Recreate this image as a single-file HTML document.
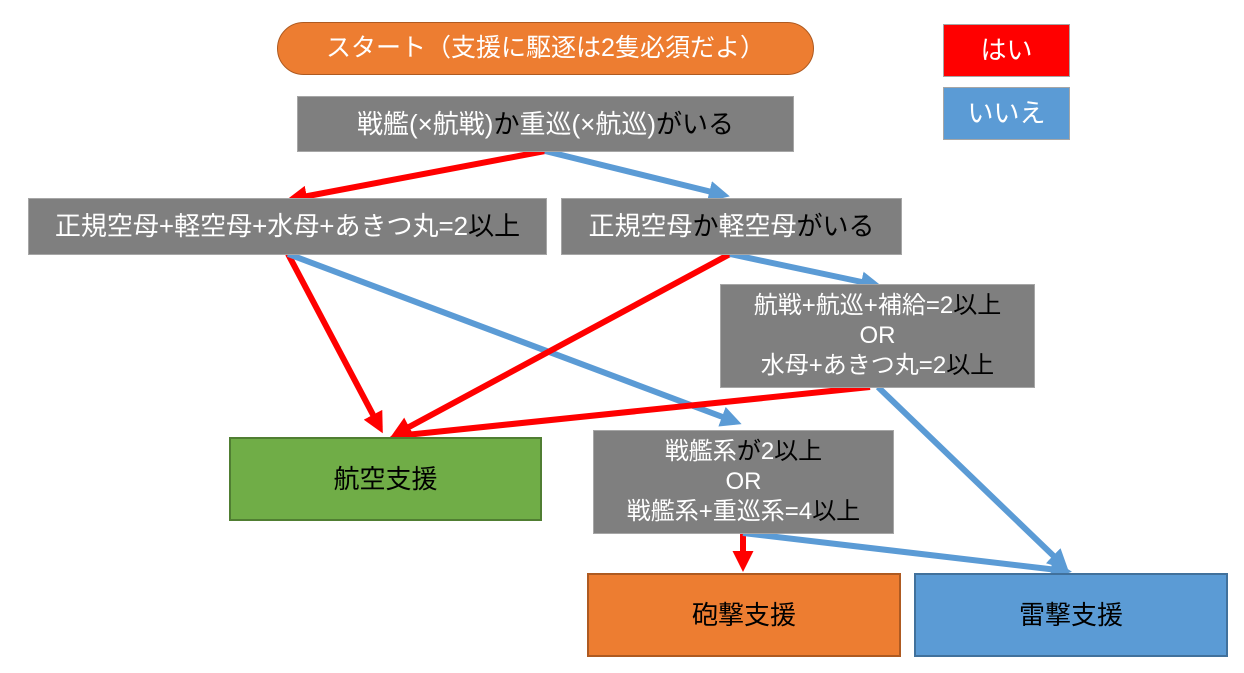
<!DOCTYPE html><html><head><meta charset="utf-8"><style>
body{margin:0;width:1244px;height:673px;background:#fff;position:relative;overflow:hidden;font-family:"Liberation Sans","Noto Sans CJK JP",sans-serif}
.b{position:absolute;display:flex;align-items:center;justify-content:center;text-align:center;color:#fff;box-sizing:border-box;line-height:1.25}
.b>div{display:block;white-space:nowrap}
.g{background:#7f7f7f;border:1px solid #a6a6a6;font-size:26px}
.k{color:#000}
</style></head><body>
<svg width="1244" height="673" style="position:absolute;left:0;top:0">
<defs>
<marker id="r" markerWidth="3.5" markerHeight="3.5" refX="2.5" refY="1.75" orient="auto"><path d="M0,0L3.5,1.75L0,3.5z" fill="#f00"/></marker>
<marker id="u" markerWidth="3.5" markerHeight="3.5" refX="2.5" refY="1.75" orient="auto"><path d="M0,0L3.5,1.75L0,3.5z" fill="#5b9bd5"/></marker>
</defs>
<g stroke-width="6" fill="none">
<line x1="545" y1="151" x2="292" y2="199" stroke="#f00" marker-end="url(#r)"/>
<line x1="545" y1="151" x2="724" y2="195" stroke="#5b9bd5" marker-end="url(#u)"/>
<line x1="288" y1="254" x2="380" y2="428" stroke="#f00" marker-end="url(#r)"/>
<line x1="288" y1="254" x2="736" y2="422" stroke="#5b9bd5" marker-end="url(#u)"/>
<line x1="730" y1="254" x2="396" y2="434" stroke="#f00" marker-end="url(#r)"/>
<line x1="730" y1="254" x2="876" y2="285" stroke="#5b9bd5" marker-end="url(#u)"/>
<line x1="870" y1="387" x2="396" y2="436" stroke="#f00" marker-end="url(#r)"/>
<line x1="878" y1="387" x2="1064" y2="566" stroke="#5b9bd5" marker-end="url(#u)"/>
<line x1="743" y1="533" x2="743" y2="566" stroke="#f00" marker-end="url(#r)"/>
<line x1="743" y1="533" x2="1066" y2="571" stroke="#5b9bd5" marker-end="url(#u)"/>
</g></svg>
<div class="b" style="left:277px;top:22px;width:537px;height:53px;background:#ed7d31;border:1px solid #ae5a21;border-radius:27px;font-size:25px"><div>スタート（支援に駆逐は2隻必須だよ）</div></div>
<div class="b" style="left:943px;top:24px;width:127px;height:53px;background:#f00;border:1px solid #a6a6a6;font-size:26px"><div>はい</div></div>
<div class="b" style="left:943px;top:87px;width:127px;height:53px;background:#5b9bd5;border:1px solid #a6a6a6;font-size:26px"><div>いいえ</div></div>
<div class="b g" style="left:297px;top:96px;width:497px;height:56px"><div>戦艦(×航戦)<span class="k">か</span>重巡(×航巡)<span class="k">がいる</span></div></div>
<div class="b g" style="left:28px;top:198px;width:519px;height:57px"><div>正規空母+軽空母+水母+あきつ丸=2<span class="k">以上</span></div></div>
<div class="b g" style="left:561px;top:198px;width:341px;height:57px"><div>正規空母<span class="k">か</span>軽空母<span class="k">がいる</span></div></div>
<div class="b g" style="left:720px;top:284px;width:315px;height:104px;font-size:24px"><div>航戦+航巡+補給=2<span class="k">以上</span><br>OR<br>水母+あきつ丸=2<span class="k">以上</span></div></div>
<div class="b" style="left:229px;top:437px;width:313px;height:84px;background:#70ad47;border:2px solid #507e32;font-size:26px;color:#000"><div>航空支援</div></div>
<div class="b g" style="left:593px;top:430px;width:301px;height:104px;font-size:24px"><div>戦艦系<span class="k">が</span>2<span class="k">以上</span><br>OR<br>戦艦系+重巡系=4<span class="k">以上</span></div></div>
<div class="b" style="left:587px;top:573px;width:314px;height:84px;background:#ed7d31;border:2px solid #ae5a21;font-size:26px;color:#000"><div>砲撃支援</div></div>
<div class="b" style="left:914px;top:573px;width:314px;height:84px;background:#5b9bd5;border:2px solid #41719c;font-size:26px;color:#000"><div>雷撃支援</div></div>
</body></html>
